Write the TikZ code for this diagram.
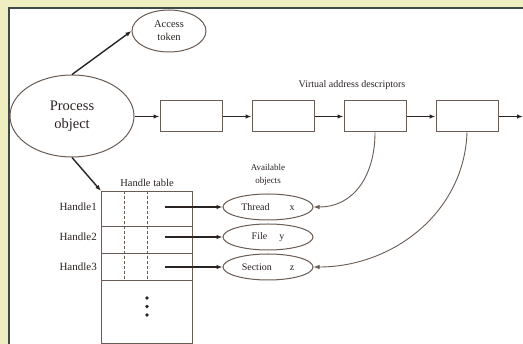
\documentclass[tikz,border=0pt]{standalone}
\usepackage{fontspec}
\setmainfont{Liberation Serif}
\usetikzlibrary{arrows.meta, positioning, shapes.geometric}
\definecolor{paper}{RGB}{239,238,192}
\definecolor{frameclr}{RGB}{62,74,74}
\definecolor{inkclr}{RGB}{42,36,34}
\definecolor{boxclr}{RGB}{105,92,84}
\tikzset{
  vad/.style     = {draw=boxclr, line width=1pt, minimum width=62pt,
                    minimum height=31pt, inner sep=0pt},
  bubble/.style  = {ellipse, draw=boxclr, line width=1pt, inner sep=0pt,
                    align=center, text=inkclr},
  obj/.style     = {bubble, minimum width=90pt, minimum height=26pt,
                    font=\fontsize{10}{12}\selectfont},
  lbl/.style     = {inner sep=0pt, text=inkclr, align=center},
  arrow/.style   = {-{Latex[length=6pt,width=4.5pt]}, line width=1.4pt, color=inkclr},
  curved/.style  = {-{Latex[length=6pt,width=4.5pt]}, line width=0.9pt, color=boxclr},
  divider/.style = {draw=boxclr, line width=0.9pt},
  slot/.style    = {draw=boxclr, line width=0.8pt, dash pattern=on 3pt off 2pt},
}

\begin{document}
\begin{tikzpicture}[x=1pt, y=-1pt]
  \useasboundingbox (0,0) rectangle (523,344);
  \clip (0,0) rectangle (523,344);
  \fill[paper] (0,0) rectangle (523,344);
  \draw[frameclr, line width=2pt, fill=white] (9,8) rectangle (540,360);

  % process and its token
  \node[bubble, minimum width=124pt, minimum height=82pt,
        font=\fontsize{14.5}{18}\selectfont] (proc) at (72,116) {Process\\object};
  \node[bubble, minimum width=74pt, minimum height=42pt,
        font=\fontsize{10.5}{13}\selectfont] (token) at (169,31) {Access\\token};
  \draw[arrow] (proc.north) -- (token.west);

  % virtual address descriptors
  \node[vad] (d1) at (191,116.5) {};
  \node[vad, right=29pt of d1] (d2) {};
  \node[vad, right=29pt of d2] (d3) {};
  \node[vad, right=29pt of d3] (d4) {};
  \coordinate (vend) at (523,116.5);
  \node[lbl, font=\fontsize{10}{12}\selectfont] (vlab) at (352,85) {Virtual address descriptors};
  \draw[arrow] (proc.east |- d1) -- (d1);
  \draw[arrow] (d1) -- (d2);
  \draw[arrow] (d2) -- (d3);
  \draw[arrow] (d3) -- (d4);
  \draw[arrow] (d4) -- (vend);

  % handle table
  \node[draw=boxclr, line width=1pt, minimum width=91pt, minimum height=152pt,
        inner sep=0pt, anchor=north west] (tbl) at (101,191) {};
  \node[lbl, font=\fontsize{10.5}{12}\selectfont] (tlab) at (147,183) {Handle table};
  \draw[arrow] (proc.south) -- (tbl.north west);
  \foreach \y in {226,253,280}
    \draw[divider] (101,\y) -- (192,\y);
  \draw[slot] (124,191) -- (124,280);
  \draw[slot] (147,191) -- (147,280);
  \foreach \y in {298,306.5,315}
    \fill[inkclr] (147,\y) circle (1.8pt);

  % available objects
  \node[lbl, font=\fontsize{9}{13}\selectfont] (alab) at (268,175) {Available\\objects};
  \node[obj] (thr) at (268,207) {Thread\hspace{20pt}x};
  \node[obj] (fil) at (268,237) {File\hspace{12pt}y};
  \node[obj] (sec) at (268,267) {Section\hspace{18pt}z};

  \foreach \i/\y/\o in {1/207/thr, 2/237/fil, 3/267/sec} {
    \node[lbl, anchor=east, font=\fontsize{11}{12}\selectfont] (hl\i) at (97,\y) {Handle\i};
    \coordinate (h\i) at (165,\y);
    \draw[arrow] (h\i) -- (\o);
  }

  \draw[curved] (d3.south) to[out=-90, in=0, looseness=1.1] (thr.east);
  \draw[curved] (d4.south) to[out=-92, in=0, looseness=1.0] (sec.east);
\end{tikzpicture}
\end{document}
